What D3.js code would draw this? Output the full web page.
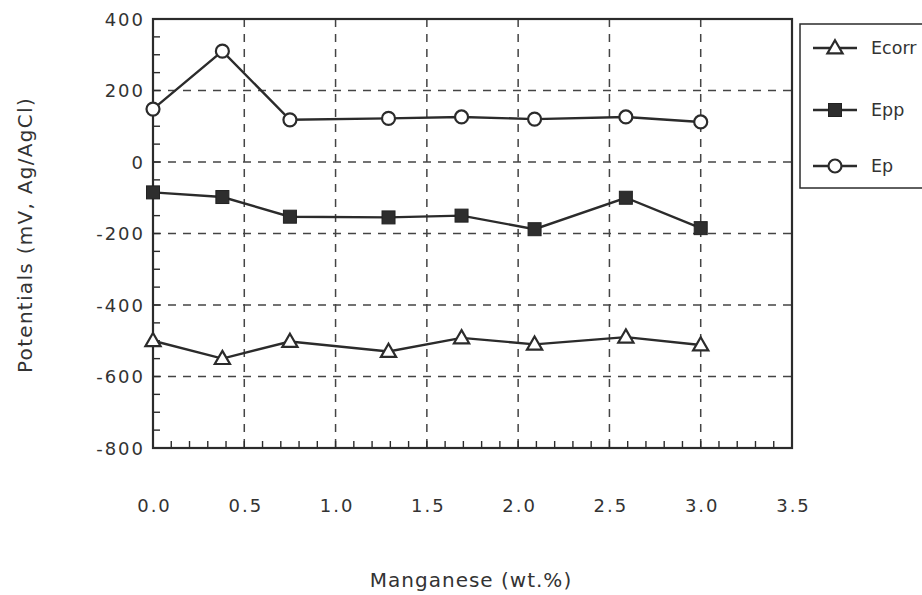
<!DOCTYPE html>
<html>
<head>
<meta charset="utf-8">
<script src="https://cdn.jsdelivr.net/npm/d3@7"></script>
<style>
  html, body { margin: 0; padding: 0; background: #fff; }
  svg { display: block; }
  text { font-family: "DejaVu Sans", Verdana, sans-serif; fill: #333; }
</style>
</head>
<body>
<svg id="chart" width="922" height="595"></svg>
<script>
const manganese = [0, 0.38, 0.75, 1.29, 1.69, 2.09, 2.59, 3.0];
const ecorr = [-500, -550, -502, -530, -492, -510, -490, -512];
const epp   = [-85, -98, -153, -155, -150, -188, -100, -185];
const ep    = [148, 310, 118, 122, 126, 120, 126, 112];
const xTicks = [0, 0.5, 1.0, 1.5, 2.0, 2.5, 3.0, 3.5];
const yTicks = [-800, -600, -400, -200, 0, 200, 400];
const seriesNames = ["Ecorr", "Epp", "Ep"];

const svg = d3.select("#chart");
const x = d3.scaleLinear().domain([0, 3.5]).range([153, 792]);
const y = d3.scaleLinear().domain([-800, 400]).range([448, 19]);
const ink = "#2b2b2b";

// grid (dashed)
const grid = svg.append("g");
grid.selectAll("line.v").data(xTicks.filter(d => d > 0 && d < 3.5)).join("line")
  .attr("x1", d => x(d)).attr("x2", d => x(d)).attr("y1", y(400)).attr("y2", y(-800))
  .attr("stroke", "#444").attr("stroke-width", 1.5).attr("stroke-dasharray", "8,7");
grid.selectAll("line.h").data(yTicks.filter(d => d > -800 && d < 400)).join("line")
  .attr("x1", x(0)).attr("x2", x(3.5)).attr("y1", d => y(d)).attr("y2", d => y(d))
  .attr("stroke", "#444").attr("stroke-width", 1.5).attr("stroke-dasharray", "8,7");

// minor ticks inside
const yMinor = d3.range(-800, 401, 50);
const xMinor = d3.range(0, 3.51, 0.1);
svg.append("g").selectAll("line").data(yMinor).join("line")
  .attr("x1", x(0)).attr("x2", x(0) + 7).attr("y1", d => y(d)).attr("y2", d => y(d))
  .attr("stroke", ink).attr("stroke-width", 1.4);
svg.append("g").selectAll("line").data(xMinor).join("line")
  .attr("x1", d => x(d)).attr("x2", d => x(d)).attr("y1", y(-800)).attr("y2", y(-800) - 7)
  .attr("stroke", ink).attr("stroke-width", 1.4);

// frame
svg.append("rect").attr("x", x(0)).attr("y", y(400))
  .attr("width", x(3.5) - x(0)).attr("height", y(-800) - y(400))
  .attr("fill", "none").attr("stroke", ink).attr("stroke-width", 2.2);

const hyphenFmt = d => String(d).replace("\u2212", "-");

// axes labels via d3 axes (no domain/ticks drawn)
const yAxis = svg.append("g").attr("transform", `translate(${x(0) - 8},0)`)
  .call(d3.axisLeft(y).tickValues(yTicks).tickSize(0).tickPadding(0).tickFormat(d => hyphenFmt(d3.format("d")(d))));
yAxis.select(".domain").remove();
yAxis.selectAll("text").attr("font-size", 18).style("letter-spacing", "2px")
  .attr("dy", "0.35em").attr("fill", ink).attr("x", 0);

const xAxis = svg.append("g").attr("transform", `translate(0,${y(-800)})`)
  .call(d3.axisBottom(x).tickValues(xTicks).tickSize(0).tickPadding(0).tickFormat(d3.format(".1f")));
xAxis.select(".domain").remove();
xAxis.selectAll("text").attr("font-size", 18).style("letter-spacing", "2px")
  .attr("y", 64).attr("dy", 0).attr("dx", 1).attr("fill", ink);

// titles
svg.append("text").attr("x", 471).attr("y", 587).attr("text-anchor", "middle")
  .attr("font-size", 20).style("letter-spacing", "1px").attr("fill", ink).text("Manganese (wt.%)");
svg.append("text").attr("transform", "translate(32,235) rotate(-90)")
  .attr("text-anchor", "middle").attr("font-size", 20).style("letter-spacing", "1.3px").attr("fill", ink)
  .text("Potentials (mV, Ag/AgCl)");

// series
const seriesData = [ecorr, epp, ep];
const line = d3.line().x((d, i) => x(manganese[i])).y(d => y(d));
seriesData.forEach(vals => {
  svg.append("path").datum(vals).attr("d", line)
    .attr("fill", "none").attr("stroke", ink).attr("stroke-width", 2.4);
});

function marker(g, kind, cx, cy) {
  if (kind === 0) {
    g.append("path").attr("d", d3.symbol(d3.symbolTriangle, 100)())
      .attr("transform", `translate(${cx},${cy + 1})`)
      .attr("fill", "#fff").attr("stroke", ink).attr("stroke-width", 2.2);
  } else if (kind === 1) {
    g.append("rect").attr("x", cx - 6.5).attr("y", cy - 6.5).attr("width", 13).attr("height", 13)
      .attr("fill", "#2e2e2e").attr("stroke", "#222").attr("stroke-width", 1);
  } else {
    g.append("circle").attr("cx", cx).attr("cy", cy).attr("r", 6.5)
      .attr("fill", "#fff").attr("stroke", ink).attr("stroke-width", 2.2);
  }
}
const mg = svg.append("g");
seriesData.forEach((vals, k) => {
  vals.forEach((v, i) => marker(mg, k, x(manganese[i]), y(v)));
});

// legend
const lg = svg.append("g");
lg.append("rect").attr("x", 800).attr("y", 24).attr("width", 140).attr("height", 164)
  .attr("fill", "#fff").attr("stroke", ink).attr("stroke-width", 1.5);
const legY = [48, 110, 166];
seriesNames.forEach((name, k) => {
  lg.append("line").attr("x1", 813).attr("x2", 857).attr("y1", legY[k]).attr("y2", legY[k])
    .attr("stroke", ink).attr("stroke-width", 2.4);
  marker(lg, k, 835, legY[k]);
  lg.append("text").attr("x", 871).attr("y", legY[k]).attr("dy", "0.35em")
    .attr("font-size", 17.5).attr("fill", ink).text(name);
});
</script>
</body>
</html>
